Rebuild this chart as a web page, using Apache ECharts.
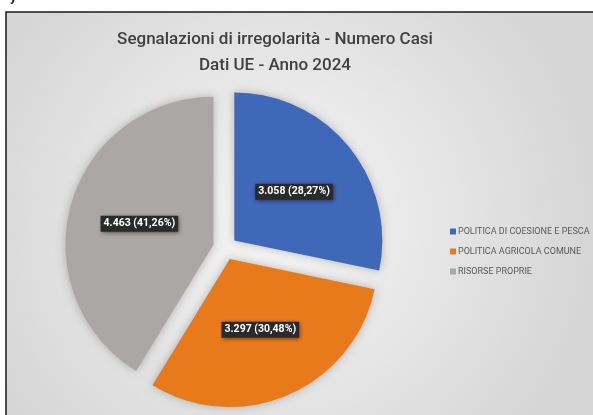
<!DOCTYPE html>
<html>
<head>
<meta charset="utf-8">
<script src="https://cdn.jsdelivr.net/npm/echarts@6/dist/echarts.min.js"></script>
<style>
  html, body { margin: 0; padding: 0; background: #fff; }
  #chart { width: 593px; height: 415px; }
</style>
</head>
<body>
<div id="chart"></div>
<script>
// dati
const categorie = ['POLITICA DI COESIONE E PESCA', 'POLITICA AGRICOLA COMUNE', 'RISORSE PROPRIE'];
const casi = [3058, 3297, 4463];
const colori = ['#4068b8', '#e97a1c', '#aba7a6'];
const titolo = 'Segnalazioni di irregolarità - Numero Casi\nDati UE - Anno 2024';

const totale = casi.reduce((a, b) => a + b, 0);

// formato italiano: 3.058 (28,27%)
function formatta(v) {
    const num = String(v).replace(/\B(?=(\d{3})+(?!\d))/g, '.');
    const perc = (v / totale * 100).toFixed(2).replace('.', ',');
    return num + ' (' + perc + '%)';
}

const chart = echarts.init(document.getElementById('chart'));

const option = {
    animation: false,
    graphic: [
        {
            type: 'rect',
            z: -10,
            shape: { x: 6, y: 12, width: 600, height: 420 },
            style: {
                fill: {
                    type: 'radial', x: 0.45, y: 0.5, r: 0.75,
                    colorStops: [
                        { offset: 0, color: '#f7f7f7' },
                        { offset: 1, color: '#d6d6d6' }
                    ]
                },
                stroke: '#1a1a1a',
                lineWidth: 1.5
            }
        },
        {
            type: 'text',
            left: 10, top: -9,
            style: { text: 'y', fill: '#222', font: 'bold 13px Roboto' }
        }
    ],
    title: {
        text: titolo,
        left: 270,
        textAlign: 'center',
        top: 22,
        textStyle: {
            fontFamily: 'Roboto, sans-serif',
            fontSize: 17,
            fontWeight: 500,
            color: '#404040',
            lineHeight: 26
        }
    },
    legend: {
        orient: 'vertical',
        left: 445,
        top: 222,
        itemWidth: 6,
        itemHeight: 6,
        itemGap: 11,
        icon: 'rect',
        textStyle: {
            fontFamily: 'Roboto, sans-serif',
            fontSize: 9,
            color: '#595959',
            padding: [0, 0, 0, -3]
        },
        data: categorie
    },
    series: [{
        type: 'pie',
        center: [225, 248],
        radius: 148,
        startAngle: 90,
        clockwise: true,
        selectedMode: 'multiple',
        selectedOffset: 12,
        itemStyle: {
            shadowBlur: 10,
            shadowColor: 'rgba(0,0,0,0.25)'
        },
        emphasis: { disabled: true },
        label: {
            show: true,
            position: 'inside',
            formatter: p => formatta(p.value),
            color: '#fff',
            fontFamily: 'Roboto, sans-serif',
            fontWeight: 'bold',
            fontSize: 10.5,
            backgroundColor: '#2a2a2a',
            padding: [3, 3, 2, 3],
            shadowBlur: 4,
            shadowOffsetX: 1,
            shadowOffsetY: 1,
            shadowColor: 'rgba(0,0,0,0.5)'
        },
        labelLine: { show: false },
        data: categorie.map((c, i) => ({
            name: c,
            value: casi[i],
            selected: true,
            itemStyle: { color: colori[i] }
        }))
    }]
};

chart.setOption(option);
</script>
</body>
</html>
